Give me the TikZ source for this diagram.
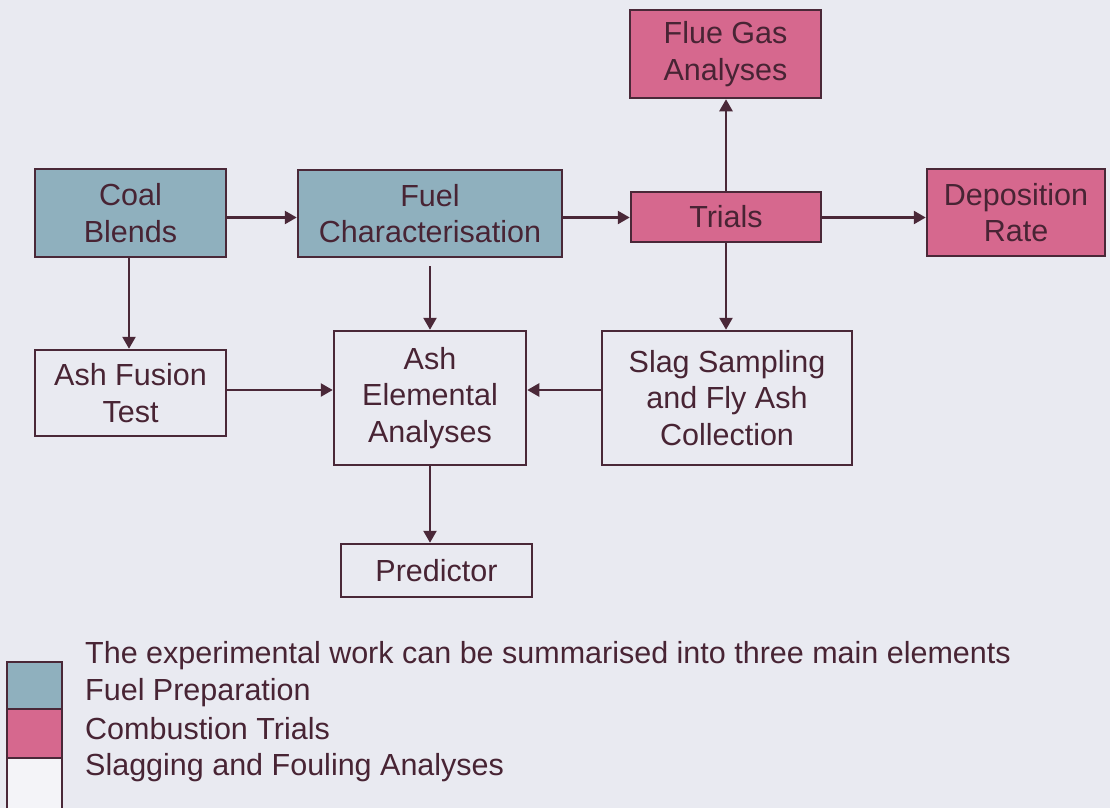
\documentclass[tikz,border=0pt]{standalone}
\usepackage{fontspec}
\setmainfont{Liberation Sans}
\usetikzlibrary{arrows.meta}
\definecolor{bgc}{RGB}{233,234,241}
\definecolor{bluef}{RGB}{143,176,190}
\definecolor{pinkf}{RGB}{214,104,142}
\definecolor{edgec}{RGB}{74,40,56}
\definecolor{txtc}{RGB}{72,36,52}
\definecolor{whitef}{RGB}{244,244,248}
\tikzset{
  x=1pt, y=1pt,
  box/.style={draw=edgec, line width=2.5pt, text=txtc, align=center, inner sep=0pt,
    font=\fontsize{30.5}{36.5}\selectfont},
  bluebox/.style={box, fill=bluef},
  pinkbox/.style={box, fill=pinkf},
  plainbox/.style={box},
  arr/.style={draw=edgec, line width=2.5pt, -{Triangle[length=12pt,width=13pt]}},
  legtext/.style={anchor=west, inner sep=0pt, text=txtc, font=\fontsize{30.5}{36.5}\selectfont},
}
\begin{document}
\begin{tikzpicture}
\fill[bgc] (0,0) rectangle (1110,-808);
\useasboundingbox (0,0) rectangle (1110,-808);

\node[bluebox, minimum width=191pt, minimum height=88pt] (coal) at (130.5,-213) {Coal\\Blends};
\node[bluebox, minimum width=264pt, minimum height=87pt] (fuel) at (430,-213.5) {Fuel\\Characterisation};
\node[pinkbox, minimum width=190pt, minimum height=50pt] (trials) at (726,-217) {Trials};
\node[pinkbox, minimum width=191pt, minimum height=88pt] (flue) at (725.5,-54) {Flue Gas\\Analyses};
\node[pinkbox, minimum width=178pt, minimum height=87pt] (dep) at (1016,-212.5) {Deposition\\Rate};
\node[plainbox, minimum width=191pt, minimum height=86pt] (fus) at (130.5,-393) {Ash Fusion\\Test};
\node[plainbox, minimum width=192pt, minimum height=134pt] (ael) at (430,-398) {Ash\\Elemental\\Analyses};
\node[plainbox, minimum width=250pt, minimum height=134pt] (slag) at (727,-398) {Slag Sampling\\and Fly Ash\\Collection};
\node[plainbox, minimum width=191pt, minimum height=53pt] (pred) at (436.5,-570.5) {Predictor};

\coordinate (rowa) at (0,-217.5);
\coordinate (rowb) at (0,-390);
\coordinate (cola) at (129,0);

\draw[arr] (coal.east |- rowa) -- (fuel.west |- rowa);
\draw[arr] (fuel.east |- rowa) -- (trials.west |- rowa);
\draw[arr] (trials.east |- rowa) -- (dep.west |- rowa);
\draw[arr] (trials.north) -- (trials.north |- flue.south);
\draw[arr] (trials.south) -- (trials.south |- slag.north);
\draw[arr] (coal.south -| cola) -- (fus.north -| cola);
\draw[arr] ([yshift=-8pt]fuel.south) -- (ael.north);
\draw[arr] (fus.east |- rowb) -- (ael.west |- rowb);
\draw[arr] (slag.west |- rowb) -- (ael.east |- rowb);
\draw[arr] (ael.south) -- (ael.south |- pred.north);

% legend
\coordinate (lga) at (7,-662);
\coordinate (lgb) at (62,-709);
\coordinate (lgc) at (7,-709);
\coordinate (lgd) at (62,-758);
\filldraw[fill=bluef, draw=edgec, line width=2.5pt] (lga) rectangle (lgb);
\filldraw[fill=pinkf, draw=edgec, line width=2.5pt] (lgc) rectangle (lgd);
\fill[whitef] (7,-758) rectangle (62,-808);
\draw[edgec, line width=2.5pt] (7,-808) -- (7,-758) -- (62,-758) -- (62,-808);

\node[legtext] (l0) at (85,-656) {The experimental work can be summarised into three main elements};
\node[legtext] (l1) at (85,-693) {Fuel Preparation};
\node[legtext] (l2) at (85,-729) {Combustion Trials};
\node[legtext] (l3) at (85,-768) {Slagging and Fouling Analyses};
\end{tikzpicture}
\end{document}
